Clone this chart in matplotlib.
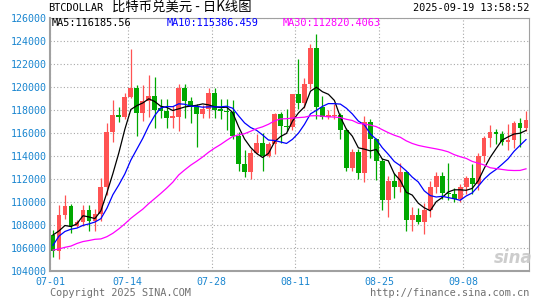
import matplotlib
matplotlib.use("Agg")
import matplotlib.pyplot as plt
import numpy as np
import pandas as pd

# daily candles 07-01 .. 09-18 (open, high, low, close)
opens = [107130, 105760, 108870, 109650, 107950, 108280, 109270, 108350, 108950, 111330,
         116100, 117600, 117420, 119160, 119940, 117770, 118780, 119220, 118150, 117880,
         117270, 117400, 119940, 118780, 118260, 117620, 118060, 119500, 118050, 117900,
         117800, 115750, 113270, 112640, 114290, 115160, 114000, 115070, 117620, 116610,
         116520, 119360, 118640, 120230, 123420, 118260, 117390, 117450, 117530, 116300,
         112930, 114350, 112490, 116990, 115450, 113560, 110140, 111800, 111300, 112600,
         108400, 108900, 108300, 109300, 111300, 112300, 110750, 110700, 110250, 111300,
         112100, 111530, 114000, 115600, 116100, 115950, 115250, 115400, 116850, 116450]
highs = [107560, 109750, 110600, 109800, 108450, 109700, 109700, 109400, 112050, 116900,
         118900, 118250, 119500, 123300, 120200, 120150, 121050, 120900, 118930, 118930,
         118350, 120290, 120230, 119100, 118550, 118400, 119880, 119880, 118930, 118930,
         118900, 116050, 114490, 114600, 115950, 116030, 115250, 117770, 117800, 118050,
         119400, 122400, 120800, 123770, 124580, 119200, 117970, 118550, 117700, 116450,
         114600, 114600, 117480, 117200, 115600, 113850, 112300, 112550, 113400, 112700,
         109560, 109500, 109900, 111800, 112600, 112600, 113400, 111200, 111600, 112300,
         113300, 114300, 115750, 116700, 116350, 116200, 116750, 117000, 117280, 117900]
lows = [105250, 105050, 108500, 107300, 107800, 107950, 107480, 107500, 108350, 110600,
        115200, 116950, 117200, 119070, 115750, 117050, 117400, 116470, 117330, 116460,
        116460, 116170, 117330, 116900, 114800, 117330, 117330, 117330, 117200, 116300,
        115450, 112700, 112150, 112000, 114150, 112700, 113900, 114150, 115100, 116150,
        116300, 118060, 118200, 119800, 117190, 117200, 117200, 117190, 115450, 112700,
        112700, 112030, 111750, 113850, 111900, 109270, 108700, 110370, 110900, 107480,
        107480, 108100, 107240, 108700, 110800, 110300, 110200, 110000, 110000, 110700,
        110700, 111000, 113500, 114800, 115050, 114950, 114500, 114670, 114760, 116200]
closes = [105760, 108870, 109650, 107950, 108280, 109270, 108350, 108950, 111330, 116100,
          117600, 117420, 119160, 119940, 117770, 118780, 119220, 117970, 117880, 117270,
          117450, 119940, 118780, 118260, 117620, 118060, 119500, 117970, 117900, 117800,
          115750, 113270, 112640, 114290, 115160, 114000, 115070, 117620, 116610, 116520,
          119360, 118640, 120230, 123420, 118260, 117390, 117530, 117550, 116230, 112930,
          114350, 112490, 116990, 115450, 113560, 110140, 111800, 111300, 112600, 108400,
          108900, 108300, 109300, 111300, 112300, 110750, 110700, 110250, 111300, 112100,
          111530, 114000, 115600, 116100, 115950, 115250, 115400, 116850, 116450, 117150]
# June closes, only needed to start the moving averages
prev_closes = [105900, 105400, 104700, 101500, 104300, 105600, 105800, 110300, 110300, 108700,
               105900, 106100, 105500, 105600, 107000, 104600, 104900, 104600, 103300, 102200,
               100900, 105600, 106000, 107300, 106900, 107100, 107300, 108400, 107100]

tick_pos = [0, 13, 27, 41, 55, 69]
tick_labels = ["07-01", "07-14", "07-28", "08-11", "08-25", "09-08"]
y_ticks = list(range(104000, 126001, 2000))

W, H = 545, 300
up_color = "#ff5353"
down_color = "#00a800"
label_blue = "#1a86d0"
mono = "DejaVu Sans Mono"

fig = plt.figure(figsize=(W / 100, H / 100), dpi=100)
ax = fig.add_axes([50 / W, 1 - 271 / H, 479 / W, 253 / H])

n = len(closes)
x = np.arange(n)
o = np.array(opens)
c = np.array(closes)
colors = [up_color if c[i] >= o[i] else down_color for i in range(n)]

# wicks and bodies
ax.vlines(x, lows, highs, colors=colors, linewidth=0.9, zorder=3)
body_h = np.abs(c - o)
body_h = np.where(body_h < 60, 60, body_h)
ax.bar(x, body_h, bottom=np.minimum(o, c), width=0.8, color=colors,
       linewidth=0, zorder=4)

# moving averages
all_close = pd.Series(prev_closes + closes)
for win, col in [(5, "black"), (10, "#0000ff"), (30, "#ff00ff")]:
    ma = all_close.rolling(win).mean().values[len(prev_closes):]
    ax.plot(x, ma, color=col, linewidth=0.9, zorder=5)

ax.set_xlim(-0.5, n - 0.5)
ax.set_ylim(104000, 126000)
ax.set_yticks(y_ticks)
ax.set_yticklabels([str(v) for v in y_ticks])
ax.set_xticks(np.array(tick_pos) - 0.5)
ax.set_xticklabels(tick_labels)
ax.tick_params(axis="both", length=0, labelcolor=label_blue, labelsize=7.2)
ax.tick_params(axis="y", pad=2.5)
ax.tick_params(axis="x", pad=4)
for lab in ax.get_xticklabels() + ax.get_yticklabels():
    lab.set_fontfamily(mono)

ax.grid(True, color="#a8a8a8", linestyle=(0, (1, 2)), linewidth=0.8, zorder=0)
for side in ["left", "bottom"]:
    ax.spines[side].set_color("#a0a0a0")
    ax.spines[side].set_linewidth(1.5)
for side in ["top", "right"]:
    ax.spines[side].set_color("#a0a0a0")
    ax.spines[side].set_linewidth(0.8)

# header texts
def px(xp, yp):
    return xp / W, 1 - yp / H

fig.text(*px(48, 8), "BTCDOLLAR", family=mono, fontsize=7.4, va="center", ha="left")
fig.text(*px(112, 8), "比特币兑美元 - 日K线图", family=["Noto Sans CJK SC", "DejaVu Sans"],
         fontsize=9.6, va="center", ha="left")
fig.text(*px(529, 8), "2025-09-19 13:58:52", family=mono, fontsize=7.4, va="center", ha="right")

fig.text(*px(52, 23.5), "MA5:116185.56", family=mono, fontsize=7.4, va="center", color="black")
fig.text(*px(167, 23.5), "MA10:115386.459", family=mono, fontsize=7.4, va="center", color="#0000ff")
fig.text(*px(283, 23.5), "MA30:112820.4063", family=mono, fontsize=7.4, va="center", color="#ff00ff")

fig.text(*px(50, 293), "Copyright 2025 SINA.COM", family=mono, fontsize=7.4, va="center",
         ha="left", color="#707070")
fig.text(*px(529, 293), "http://finance.sina.com.cn", family=mono, fontsize=7.4, va="center",
         ha="right", color="#707070")

# watermark
fig.text(*px(513, 258), "sina", fontsize=12, fontweight="bold", style="italic",
         color="#c8c8c8", ha="center", va="center", alpha=0.9)

fig.savefig("out.png", dpi=100)
